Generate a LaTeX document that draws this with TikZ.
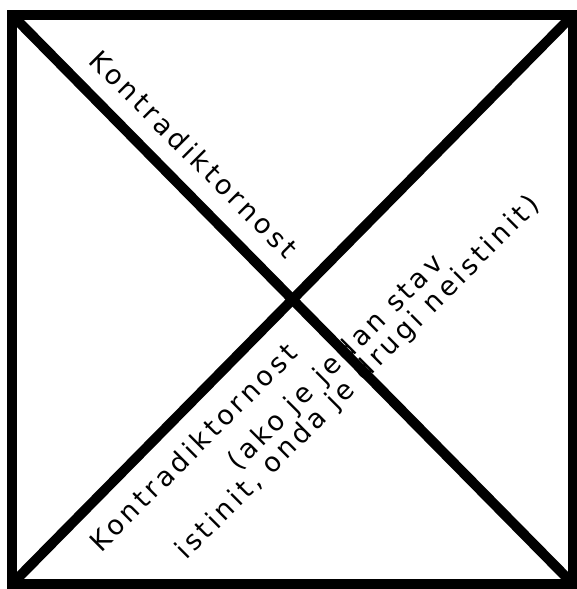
\documentclass[tikz,border=0pt]{standalone}
\usepackage{fontspec}
\newfontfamily\lblfont{DejaVu Sans}[LetterSpace=13.6]
\begin{document}
\begin{tikzpicture}[x=1pt,y=-1pt,
  frame/.style={line width=10pt,line join=miter},
  diag/.style={line width=10pt},
  lbl/.style={font=\lblfont\fontsize{27}{31}\selectfont,inner sep=0pt,anchor=base,text=black}]
\useasboundingbox (0,0) rectangle (577,589);
\coordinate (tl) at (12,15);
\coordinate (tr) at (573,15);
\coordinate (bl) at (12,584);
\coordinate (br) at (573,584);
\draw[frame] (tl) rectangle (br);
\draw[diag] (tl) -- (br);
\draw[diag] (bl) -- (tr);
\node[lbl,rotate=-45] (top) at (186.8,161.2) {Kontradiktornost};
\node[lbl,rotate=45] (l1) at (200.2,454.2) {Kontradiktornost};
\node[lbl,rotate=45] (l2) at (341.2,368.7) {(ako je jedan stav};
\node[lbl,rotate=45] (l3) at (363.7,383.7) {istinit, onda je drugi neistinit)};
\end{tikzpicture}
\end{document}
